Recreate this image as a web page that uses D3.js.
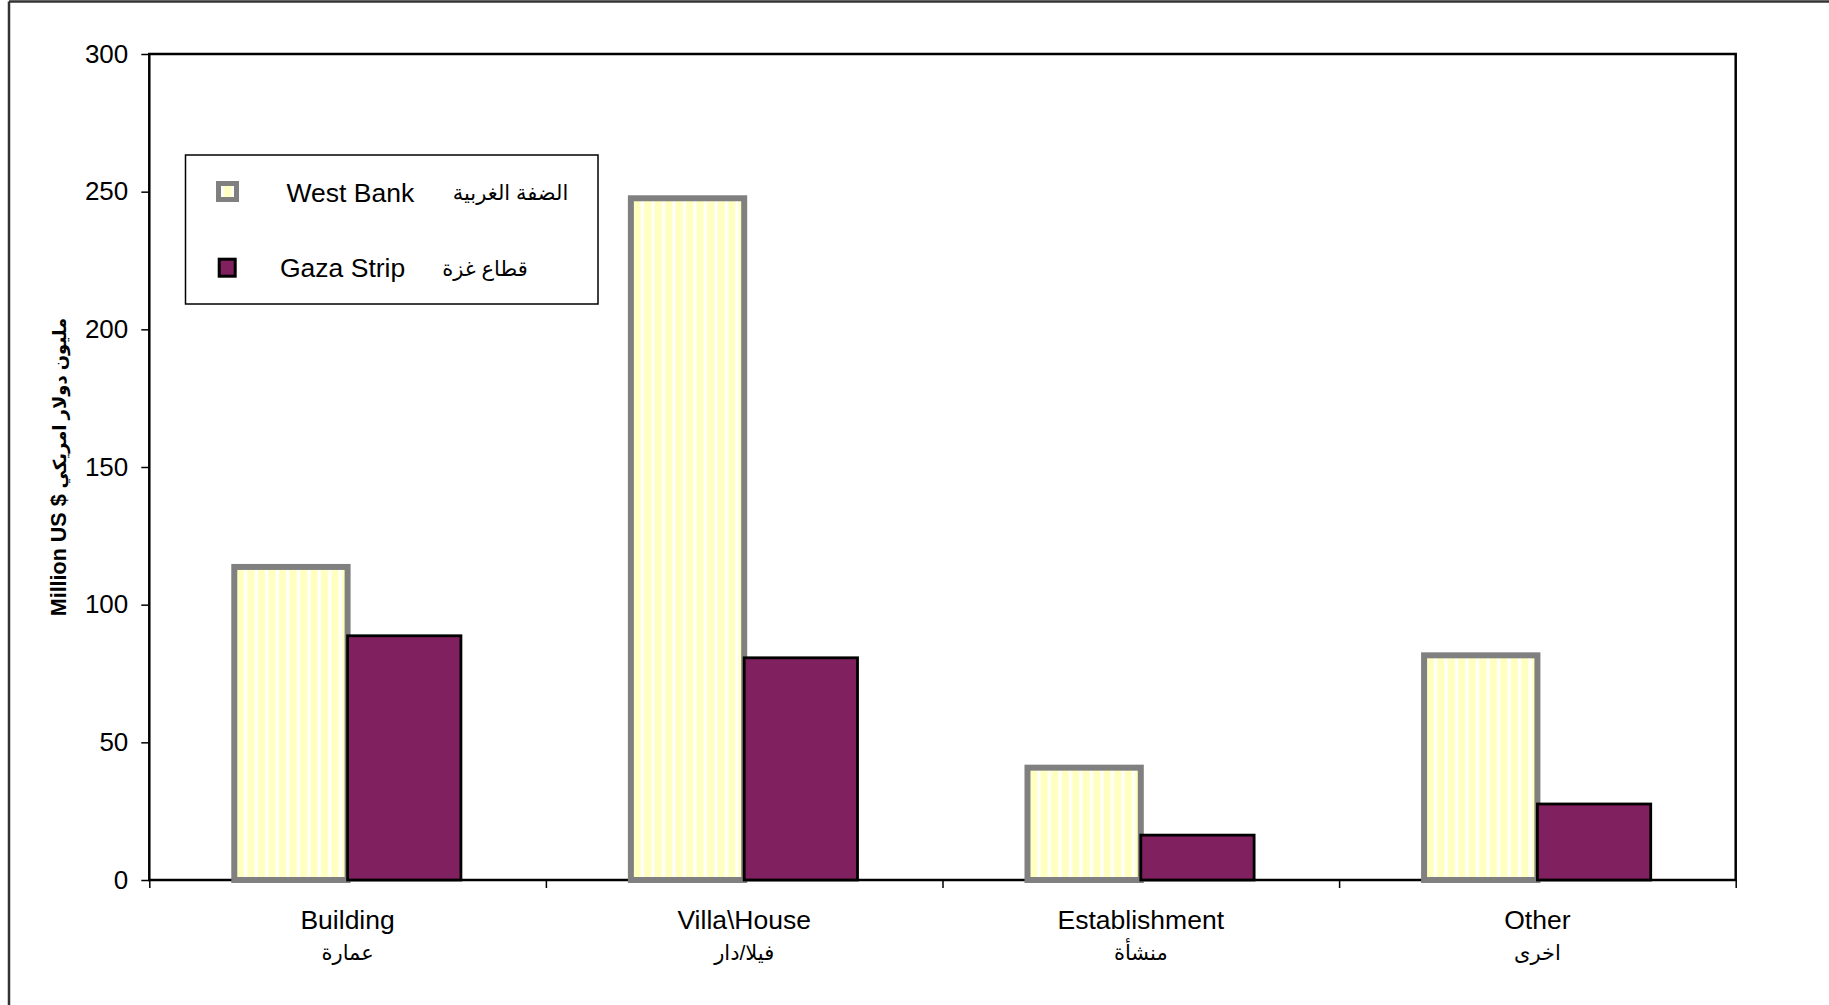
<!DOCTYPE html>
<html>
<head>
<meta charset="utf-8">
<script src="https://cdn.jsdelivr.net/npm/d3@7"></script>
<style>
  body { margin: 0; background: #fff; }
  svg { display: block; }
  text { font-family: "Liberation Sans", Arial, "DejaVu Sans", sans-serif; fill: #000; }
</style>
</head>
<body>
<div id="chart"></div>
<script>
// Chart data
const categories = ["Building", "Villa\\House", "Establishment", "Other"];
const categoriesAr = ["عمارة", "فيلا/دار", "منشأة", "اخرى"];
const seriesNames = ["West Bank", "Gaza Strip"];
const seriesNamesAr = ["الضفة الغربية", "قطاع غزة"];
const westBank = [113.7, 247.6, 40.8, 81.6];
const gazaStrip = [88.7, 80.7, 16.3, 27.6];
const yTicks = [0, 50, 100, 150, 200, 250, 300];

// Dimensions
const W = 1829, H = 1005;
const margin = { top: 54, right: 93.3, bottom: 125, left: 149.3 },
    width = W - margin.left - margin.right,
    height = H - margin.top - margin.bottom;

const svg = d3.select("#chart")
    .append("svg")
    .attr("width", W)
    .attr("height", H);

// outer chart frame (only top and left edges are visible)
svg.append("line")
    .attr("x1", 9).attr("y1", 1.5).attr("x2", W).attr("y2", 1.5)
    .attr("stroke", "#333").attr("stroke-width", 2.5);
svg.append("line")
    .attr("x1", 9).attr("y1", 1.5).attr("x2", 9).attr("y2", H)
    .attr("stroke", "#333").attr("stroke-width", 2.5);

// striped fill for West Bank bars
const defs = svg.append("defs");
const pat = defs.append("pattern")
    .attr("id", "stripes")
    .attr("patternUnits", "userSpaceOnUse")
    .attr("width", 10.5)
    .attr("height", 10);
pat.append("rect").attr("width", 10.5).attr("height", 10).attr("fill", "#ffffc0");
pat.append("rect").attr("x", 0).attr("width", 4).attr("height", 10).attr("fill", "#ffffe6");
pat.append("rect").attr("x", 1).attr("width", 2).attr("height", 10).attr("fill", "#ffffff");

const g = svg.append("g")
    .attr("transform", `translate(${margin.left},${margin.top})`);

// Scales
const x = d3.scaleBand()
    .domain(categories)
    .range([0, width])
    .padding(0);

const xSub = d3.scaleBand()
    .domain(seriesNames)
    .range([0, x.bandwidth()])
    .paddingInner(0)
    .paddingOuter(0.75);

const y = d3.scaleLinear()
    .domain([0, 300])
    .range([height, 0]);

// plot area box
g.append("rect")
    .attr("x", 0).attr("y", 0)
    .attr("width", width).attr("height", height)
    .attr("fill", "none")
    .attr("stroke", "#000")
    .attr("stroke-width", 2.5);

// Y axis
const yAxis = g.append("g")
    .call(d3.axisLeft(y).tickValues(yTicks).tickSize(8).tickPadding(13).tickSizeOuter(0));
yAxis.select(".domain").remove();
yAxis.selectAll(".tick line").attr("stroke", "#000").attr("stroke-width", 1.5);
yAxis.selectAll(".tick text")
    .style("font-size", "26px")
    .style("font-family", "\"Liberation Sans\", Arial, sans-serif");

// X axis tick marks at category boundaries
const xEdges = d3.scaleLinear().domain([0, categories.length]).range([0, width]);
const xAxis = g.append("g")
    .attr("transform", `translate(0,${height})`)
    .call(d3.axisBottom(xEdges).ticks(categories.length).tickSize(8).tickSizeOuter(0).tickFormat(""));
xAxis.select(".domain").remove();
xAxis.selectAll(".tick line").attr("stroke", "#000").attr("stroke-width", 1.5);

// Bars
const rows = categories.map((c, i) => ({ cat: c, values: [westBank[i], gazaStrip[i]] }));
const groups = g.selectAll(".grp")
    .data(rows)
    .enter()
    .append("g")
    .attr("class", "grp")
    .attr("transform", d => `translate(${x(d.cat)},0)`);

groups.selectAll("rect")
    .data(d => d.values.map((v, j) => ({ series: seriesNames[j], value: v })))
    .enter()
    .append("rect")
    .attr("x", d => xSub(d.series))
    .attr("y", d => y(d.value))
    .attr("width", xSub.bandwidth())
    .attr("height", d => height - y(d.value))
    .attr("fill", d => d.series === "West Bank" ? "url(#stripes)" : "#80205f")
    .attr("stroke", d => d.series === "West Bank" ? "#808080" : "#000")
    .attr("stroke-width", d => d.series === "West Bank" ? 6 : 2.8);

// Category labels
const labels = g.append("g").attr("transform", `translate(0,${height})`);
labels.selectAll(".en")
    .data(categories)
    .enter().append("text")
    .attr("class", "en")
    .attr("x", d => x(d) + x.bandwidth() / 2)
    .attr("y", 49)
    .attr("text-anchor", "middle")
    .style("font-size", "26.5px")
    .text(d => d);
labels.selectAll(".ar")
    .data(categoriesAr)
    .enter().append("text")
    .attr("class", "ar")
    .attr("x", (d, i) => x(categories[i]) + x.bandwidth() / 2)
    .attr("y", 80)
    .attr("text-anchor", "middle")
    .style("font-size", "21px")
    .text(d => d);

// Y axis title
const yTitle = svg.append("text")
    .attr("transform", `translate(66,${margin.top + height / 2}) rotate(-90)`)
    .attr("text-anchor", "middle")
    .style("font-size", "21.5px");
yTitle.append("tspan").style("font-weight", "bold").text("Million US $ ");
yTitle.append("tspan").style("font-size", "18px").style("font-weight", "bold").text("مليون دولار امريكي");

// Legend
const legend = svg.append("g");
legend.append("rect")
    .attr("x", 185.5).attr("y", 155)
    .attr("width", 412.5).attr("height", 149)
    .attr("fill", "#fff")
    .attr("stroke", "#000")
    .attr("stroke-width", 1.5);

legend.append("rect")
    .attr("x", 218.5).attr("y", 183.5).attr("width", 18).attr("height", 16)
    .attr("fill", "url(#stripes)").attr("stroke", "#808080").attr("stroke-width", 5);
legend.append("rect")
    .attr("x", 219.2).attr("y", 259.2).attr("width", 16).attr("height", 17)
    .attr("fill", "#80205f").attr("stroke", "#000").attr("stroke-width", 3);

legend.append("text").attr("x", 286.5).attr("y", 201.5)
    .style("font-size", "26.5px").text(seriesNames[0]);
legend.append("text").attr("x", 280).attr("y", 277)
    .style("font-size", "26.5px").text(seriesNames[1]);
legend.append("text").attr("x", 510.5).attr("y", 200)
    .attr("text-anchor", "middle")
    .style("font-size", "21px").text(seriesNamesAr[0]);
legend.append("text").attr("x", 485).attr("y", 276)
    .attr("text-anchor", "middle")
    .style("font-size", "21px").text(seriesNamesAr[1]);
</script>
</body>
</html>
